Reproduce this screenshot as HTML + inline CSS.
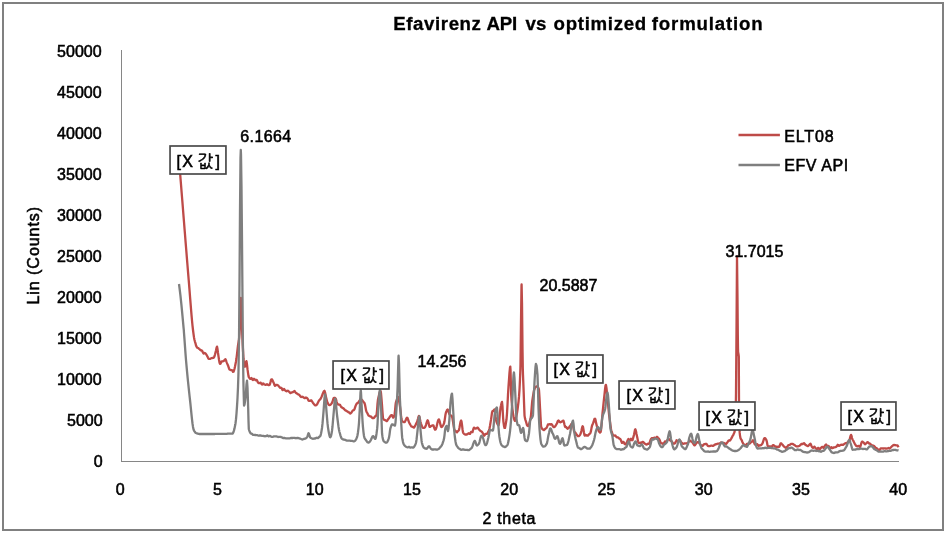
<!DOCTYPE html>
<html><head><meta charset="utf-8"><title>Efavirenz API vs optimized formulation</title>
<style>
html,body{margin:0;padding:0;background:#fff;}
svg{display:block;}
text{font-family:"Liberation Sans","NanumGothic",sans-serif;fill:#000;stroke:#000;stroke-width:0.55px;}
.t{font-size:16px;}
.k{font-size:16px;font-family:"Liberation Sans","NanumGothic","Noto Sans CJK KR",sans-serif;}
</style></head><body>
<svg width="946" height="533" viewBox="0 0 946 533">
<rect x="0" y="0" width="946" height="533" fill="#fff"/>
<rect x="3" y="3" width="940" height="527" fill="#fff" stroke="#808080" stroke-width="2"/>
<text y="29.6" font-size="18.67" font-weight="bold" style="stroke-width:0.3px" id="title"><tspan x="393.2" letter-spacing="0.6">Efavirenz</tspan> <tspan x="486.6" letter-spacing="-0.3">API</tspan> <tspan x="525.4" letter-spacing="0.2">vs</tspan> <tspan x="553.6" letter-spacing="0.7">optimized</tspan> <tspan x="651.8" letter-spacing="0.83">formulation</tspan></text>
<g shape-rendering="crispEdges" stroke="#868686" stroke-width="1">
<line x1="121.5" y1="50" x2="121.5" y2="462"/>
<line x1="121" y1="461.5" x2="899" y2="461.5"/>
</g>

<text class="t" x="102.6" y="466.7" text-anchor="end">0</text>
<text class="t" x="102.6" y="425.7" text-anchor="end">5000</text>
<text class="t" x="101.6" y="384.7" text-anchor="end">10000</text>
<text class="t" x="101.6" y="343.7" text-anchor="end">15000</text>
<text class="t" x="101.6" y="302.7" text-anchor="end">20000</text>
<text class="t" x="101.6" y="261.7" text-anchor="end">25000</text>
<text class="t" x="101.6" y="220.7" text-anchor="end">30000</text>
<text class="t" x="101.6" y="179.7" text-anchor="end">35000</text>
<text class="t" x="101.6" y="138.7" text-anchor="end">40000</text>
<text class="t" x="101.6" y="97.7" text-anchor="end">45000</text>
<text class="t" x="101.6" y="56.7" text-anchor="end">50000</text>
<text class="t" x="120.2" y="494.7" text-anchor="middle">0</text>
<text class="t" x="217.4" y="494.7" text-anchor="middle">5</text>
<text class="t" x="314.7" y="494.7" text-anchor="middle">10</text>
<text class="t" x="411.9" y="494.7" text-anchor="middle">15</text>
<text class="t" x="509.2" y="494.7" text-anchor="middle">20</text>
<text class="t" x="606.5" y="494.7" text-anchor="middle">25</text>
<text class="t" x="703.7" y="494.7" text-anchor="middle">30</text>
<text class="t" x="801.0" y="494.7" text-anchor="middle">35</text>
<text class="t" x="898.2" y="494.7" text-anchor="middle">40</text>
<text class="t" x="482.6" y="523.7" letter-spacing="0.65" id="xt">2 theta</text>
<text class="t" transform="translate(39,304.5) rotate(-90)" letter-spacing="0.95" id="yt">Lin (Counts)</text>
<polyline fill="none" stroke="#BE4B48" stroke-width="2.3" stroke-linejoin="round" points="180.0,172.0 180.5,178.3 181.0,184.5 181.5,190.8 182.0,197.0 182.5,203.2 183.0,209.5 183.5,215.8 184.0,222.0 184.5,228.3 185.0,234.5 185.5,240.8 186.0,247.0 186.5,253.2 187.0,259.4 187.5,265.5 188.0,271.6 188.5,277.6 188.7,280.0 189.0,283.6 189.5,289.9 190.0,296.3 190.5,302.7 191.0,308.9 191.5,314.9 192.0,320.5 192.5,325.6 193.0,330.0 193.5,333.9 194.0,337.4 194.5,340.0 195.0,341.8 195.5,343.3 196.0,345.4 196.2,346.0 196.5,346.6 197.0,347.6 197.5,347.8 198.0,348.0 198.5,348.3 199.0,348.8 199.5,349.2 200.0,349.6 200.5,350.1 201.0,350.4 201.5,350.5 202.0,350.6 202.5,351.5 203.0,352.7 203.5,353.5 204.0,353.2 204.5,353.0 205.0,353.1 205.5,353.5 206.0,354.0 206.5,354.8 207.0,355.7 207.5,356.6 208.0,357.7 208.5,358.7 209.0,358.9 209.5,358.9 210.0,358.9 210.5,358.7 211.0,358.3 211.5,358.2 212.0,358.1 212.5,357.9 213.0,357.9 213.5,357.8 214.0,357.4 214.5,356.2 215.0,354.5 215.5,352.5 216.0,350.5 216.5,348.0 217.0,346.6 217.5,349.1 218.0,353.0 218.5,356.3 219.0,359.7 219.5,362.5 220.0,363.9 220.5,363.7 221.0,362.6 221.5,361.5 222.0,361.3 222.5,361.3 223.0,361.3 223.5,361.0 224.0,360.7 224.5,360.1 225.0,359.6 225.5,359.3 226.0,360.4 226.5,361.8 227.0,363.1 227.5,364.3 228.0,365.4 228.5,366.9 229.0,368.4 229.5,369.4 230.0,369.7 230.5,369.9 231.0,370.1 231.5,370.1 232.0,370.1 232.5,371.0 233.0,371.8 233.5,371.7 234.0,370.5 234.5,368.7 235.0,366.5 235.5,364.0 235.8,362.5 236.0,361.5 236.5,358.3 237.0,354.2 237.5,349.7 238.0,345.5 238.5,342.5 239.0,339.2 239.2,337.4 239.5,333.6 240.0,324.3 240.3,317.6 240.5,310.4 240.9,297.9 241.0,298.7 241.5,314.4 241.6,317.3 242.0,327.8 242.5,340.2 242.7,344.6 243.0,350.4 243.5,358.7 243.8,361.9 244.0,363.2 244.5,365.9 244.8,366.7 245.0,366.6 245.5,364.5 246.0,362.0 246.4,361.1 246.5,361.2 247.0,364.7 247.5,369.2 248.0,372.9 248.5,376.1 248.8,377.1 249.0,377.4 249.5,378.2 250.0,378.9 250.5,378.9 251.0,378.5 251.5,378.0 252.0,378.9 252.5,379.7 253.0,380.0 253.5,379.4 253.8,379.0 254.0,378.8 254.5,379.2 255.0,379.8 255.5,380.3 256.0,380.1 256.5,379.9 257.0,380.4 257.5,381.5 258.0,382.6 258.5,382.9 259.0,383.2 259.5,383.2 260.0,382.9 260.5,382.6 261.0,383.2 261.5,384.0 262.0,384.6 262.5,384.1 263.0,383.5 263.5,383.6 264.0,384.1 264.5,384.5 265.0,384.7 265.5,384.8 266.0,384.8 266.5,384.5 267.0,384.2 267.5,384.5 268.0,384.9 268.5,385.0 269.0,385.0 269.5,384.9 270.0,384.0 270.5,382.1 271.0,379.9 271.5,379.3 272.0,379.4 272.5,380.3 273.0,381.5 273.5,382.4 274.0,383.7 274.5,385.1 275.0,385.8 275.5,385.4 276.0,385.0 276.5,384.9 277.0,385.0 277.3,385.0 277.5,385.1 278.0,385.3 278.5,385.8 279.0,386.5 279.5,387.1 280.0,387.7 280.5,387.9 281.0,387.8 281.5,387.9 282.0,389.0 282.5,390.1 283.0,390.2 283.5,389.5 284.0,388.9 284.5,389.6 285.0,390.2 285.5,390.7 286.0,391.0 286.5,391.3 287.0,391.1 287.5,390.8 288.0,390.7 288.5,391.2 289.0,391.7 289.5,392.1 290.0,392.6 290.5,393.1 291.0,392.8 291.5,392.6 292.0,392.4 292.5,392.2 293.0,392.1 293.5,391.7 294.0,391.2 294.5,391.0 295.0,391.7 295.5,392.5 296.0,393.0 296.5,393.3 297.0,393.6 297.5,393.9 298.0,394.2 298.5,394.5 299.0,394.8 299.5,395.1 300.0,395.8 300.5,396.5 301.0,397.0 301.5,396.9 302.0,396.7 302.5,396.8 303.0,397.1 303.5,397.4 304.0,397.7 304.5,398.1 305.0,398.2 305.5,397.8 306.0,397.5 306.5,397.7 307.0,398.0 307.5,398.5 308.0,399.5 308.5,400.5 309.0,400.9 309.5,400.9 310.0,400.9 310.5,400.6 311.0,400.4 311.5,400.5 312.0,401.3 312.5,402.2 313.0,402.9 313.5,403.5 314.0,404.2 314.5,404.8 315.0,405.3 315.5,405.4 316.0,405.2 316.3,405.1 316.5,404.9 317.0,404.4 317.5,403.6 318.0,402.6 318.5,401.6 319.0,400.6 319.5,399.9 320.0,399.5 320.5,398.9 321.0,397.9 321.5,396.9 322.0,395.7 322.5,394.5 322.6,394.3 323.0,393.2 323.5,392.0 324.0,391.1 324.4,390.8 324.5,390.9 325.0,392.2 325.5,394.5 326.0,396.9 326.5,399.1 327.0,401.2 327.5,402.6 328.0,403.7 328.5,404.5 328.8,404.8 329.0,405.0 329.5,405.2 330.0,405.0 330.5,404.7 331.0,404.2 331.5,403.6 332.0,402.9 332.5,401.7 333.0,400.0 333.5,398.4 334.0,397.9 334.5,397.9 334.7,398.1 335.0,397.9 335.5,398.3 336.0,399.2 336.5,401.3 337.0,403.1 337.5,404.2 338.0,404.4 338.5,404.5 339.0,404.6 339.5,404.7 340.0,404.9 340.5,405.8 341.0,406.7 341.5,407.2 342.0,407.5 342.5,407.9 343.0,408.1 343.5,408.4 344.0,408.9 344.5,409.5 345.0,410.1 345.5,410.4 346.0,410.6 346.5,410.9 347.0,411.2 347.5,411.5 348.0,411.9 348.5,412.2 348.8,412.3 349.0,412.4 349.5,412.9 350.0,413.4 350.5,413.5 351.0,413.0 351.5,412.4 352.0,411.6 352.5,410.9 353.0,410.3 353.5,410.2 353.8,410.1 354.0,410.0 354.5,409.2 355.0,407.7 355.5,406.2 356.0,404.9 356.5,403.9 357.0,403.3 357.5,403.1 358.0,403.0 358.5,402.2 359.0,401.4 359.5,400.6 360.0,399.9 360.5,399.4 361.0,399.3 361.5,399.6 362.0,400.0 362.5,400.6 363.0,401.3 363.5,401.9 364.0,402.5 364.5,403.1 365.0,404.7 365.5,407.3 366.0,410.1 366.5,411.8 367.0,412.7 367.5,413.4 368.0,414.5 368.5,415.5 369.0,415.8 369.5,416.1 370.0,416.3 370.5,416.4 371.0,416.6 371.5,417.1 372.0,417.7 372.5,418.1 373.0,418.2 373.5,418.2 373.9,418.0 374.0,417.9 374.5,417.3 375.0,416.4 375.5,416.3 376.0,415.9 376.5,414.7 376.6,414.3 377.0,410.8 377.5,403.8 377.9,400.1 378.0,399.6 378.5,397.2 379.0,395.1 379.5,393.1 380.0,391.7 380.5,391.1 380.6,391.1 381.0,393.1 381.5,398.9 382.0,405.0 382.5,412.3 383.0,418.3 383.1,418.6 383.5,419.1 384.0,419.7 384.5,419.9 385.0,420.1 385.5,420.3 386.0,420.7 386.5,421.1 387.0,421.0 387.1,420.9 387.5,420.3 388.0,419.2 388.5,418.8 389.0,418.2 389.5,417.4 390.0,416.6 390.5,415.9 391.0,415.4 391.5,415.1 392.0,415.1 392.5,416.3 393.0,417.6 393.5,417.5 394.0,416.7 394.3,416.2 394.5,415.4 395.0,410.9 395.5,405.3 395.8,402.8 396.0,402.2 396.5,400.6 397.0,399.5 397.5,397.8 397.8,397.1 398.0,396.9 398.5,397.7 399.0,400.4 399.5,403.5 399.8,405.3 400.0,406.6 400.5,410.7 401.0,415.4 401.5,419.1 402.0,421.2 402.2,421.4 402.5,421.5 403.0,421.8 403.5,422.0 404.0,422.1 404.5,422.1 405.0,421.6 405.5,420.6 406.0,419.5 406.5,418.3 406.8,417.8 407.0,417.7 407.5,418.0 408.0,419.3 408.5,420.8 409.0,422.2 409.4,423.1 409.5,423.3 410.0,424.1 410.5,425.0 411.0,425.8 411.5,426.5 412.0,426.7 412.5,426.8 413.0,427.1 413.3,427.3 413.5,427.4 414.0,427.6 414.5,426.9 415.0,426.0 415.5,425.1 416.0,424.0 416.5,422.9 416.6,422.7 417.0,421.9 417.5,420.4 418.0,418.7 418.5,416.8 418.9,415.9 419.0,415.9 419.5,417.1 420.0,419.6 420.5,422.0 420.6,422.3 421.0,423.6 421.5,425.1 422.0,426.5 422.5,427.4 423.0,427.8 423.5,427.9 424.0,427.9 424.5,427.7 425.0,427.2 425.2,426.9 425.5,426.3 426.0,424.8 426.5,423.1 427.0,421.5 427.5,420.4 427.6,420.3 428.0,420.7 428.5,422.5 429.0,425.1 429.5,426.8 429.6,426.9 430.0,426.9 430.5,426.6 431.0,426.2 431.5,425.7 432.0,425.5 432.2,425.5 432.5,425.3 433.0,425.3 433.5,425.6 434.0,427.1 434.5,428.7 435.0,429.6 435.5,429.5 436.0,428.8 436.5,427.1 437.0,424.9 437.5,422.6 438.0,420.8 438.5,419.6 438.8,419.4 439.0,419.5 439.5,420.8 440.0,422.7 440.5,424.9 441.0,426.6 441.4,427.1 441.5,427.1 442.0,426.8 442.5,426.2 443.0,425.4 443.5,424.5 444.0,423.5 444.5,421.3 445.0,417.8 445.5,414.4 446.0,412.2 446.5,411.2 447.0,410.1 447.5,409.6 447.6,409.5 448.0,410.0 448.5,411.6 449.0,413.2 449.3,414.0 449.5,414.3 450.0,415.0 450.5,415.4 451.0,415.5 451.5,415.7 451.9,416.2 452.0,416.4 452.5,418.6 453.0,421.6 453.2,422.9 453.5,424.9 454.0,428.2 454.5,430.7 455.0,431.4 455.2,431.2 455.5,430.8 456.0,431.2 456.5,432.0 457.0,432.4 457.5,431.7 458.0,431.0 458.5,430.8 459.0,429.9 459.5,427.5 460.0,424.6 460.5,422.0 461.0,420.6 461.1,420.5 461.5,421.4 462.0,424.8 462.5,429.2 463.0,432.3 463.1,432.5 463.5,433.3 464.0,433.8 464.5,434.2 465.0,434.4 465.5,434.6 465.7,434.6 466.0,434.5 466.5,434.5 467.0,434.4 467.5,434.1 468.0,433.7 468.5,433.2 469.0,433.4 469.5,433.8 469.7,433.9 470.0,433.9 470.5,433.0 471.0,432.1 471.5,431.8 472.0,432.0 472.5,432.1 473.0,430.3 473.5,428.5 474.0,427.6 474.5,428.0 475.0,428.5 475.5,428.5 476.0,428.4 476.5,428.3 477.0,427.9 477.5,427.6 478.0,427.8 478.5,428.6 479.0,429.5 479.5,430.0 480.0,430.5 480.5,430.9 481.0,431.2 481.5,431.4 482.0,432.0 482.5,432.7 483.0,433.5 483.5,434.6 484.0,435.5 484.1,435.7 484.5,435.4 485.0,434.6 485.5,433.9 486.0,433.9 486.5,433.9 486.9,433.9 487.0,433.8 487.5,433.2 488.0,432.2 488.5,431.2 488.9,430.4 489.0,430.2 489.5,428.5 490.0,425.8 490.5,422.7 490.9,420.4 491.0,419.9 491.5,416.3 492.0,412.6 492.5,411.1 493.0,411.0 493.5,410.7 494.0,409.9 494.4,409.4 494.5,409.4 495.0,412.0 495.5,416.4 496.0,420.0 496.1,420.4 496.5,421.6 497.0,423.0 497.5,424.1 498.0,425.0 498.5,425.5 499.0,423.1 499.5,417.9 500.0,412.2 500.5,407.9 500.7,406.8 501.0,405.6 501.5,403.2 502.0,401.9 502.5,406.7 503.0,416.2 503.4,421.6 503.5,422.3 504.0,425.9 504.5,427.9 505.0,427.9 505.5,425.5 506.0,422.6 506.3,420.6 506.5,419.5 507.0,413.5 507.5,404.6 508.0,394.7 508.5,386.3 508.6,385.1 509.0,379.7 509.5,372.6 510.0,367.6 510.3,366.6 510.5,369.6 511.0,389.1 511.2,394.7 511.5,399.6 512.0,405.5 512.5,409.6 513.0,413.1 513.5,416.3 514.0,418.6 514.5,420.3 515.0,420.9 515.5,420.5 516.0,418.2 516.5,415.8 517.0,413.1 517.5,409.9 518.0,405.9 518.5,401.8 519.0,396.7 519.5,389.6 520.0,379.3 520.4,368.6 520.5,364.4 521.0,322.0 521.5,285.9 521.6,284.5 522.0,303.1 522.5,349.0 522.8,368.4 523.0,375.0 523.5,387.6 523.7,392.7 524.0,401.8 524.5,415.1 524.6,416.1 525.0,418.4 525.5,420.1 526.0,421.6 526.3,422.7 526.5,423.4 527.0,425.1 527.5,425.8 528.0,426.1 528.3,426.0 528.5,425.8 529.0,424.5 529.5,422.5 530.0,420.6 530.3,419.7 530.5,418.8 531.0,415.3 531.5,409.5 532.0,403.7 532.3,400.7 532.5,399.4 533.0,396.1 533.5,393.2 534.0,390.5 534.2,389.8 534.5,389.0 535.0,387.8 535.5,387.1 536.0,386.7 536.5,386.4 537.0,386.4 537.5,386.5 538.0,387.3 538.5,388.3 538.8,389.0 539.0,390.0 539.5,397.8 540.0,407.6 540.1,409.1 540.5,416.8 541.0,425.3 541.2,426.8 541.5,427.8 542.0,428.6 542.5,429.1 543.0,429.6 543.4,429.9 543.5,429.9 544.0,430.1 544.5,429.7 545.0,429.1 545.5,428.6 546.0,428.2 546.5,427.9 546.7,427.6 547.0,427.0 547.5,425.7 548.0,424.5 548.5,424.4 549.0,424.4 549.5,424.2 550.0,424.1 550.5,424.5 551.0,424.2 551.5,424.2 552.0,424.6 552.5,425.6 553.0,426.4 553.5,426.9 553.9,427.1 554.0,427.1 554.5,426.9 555.0,426.5 555.5,425.8 556.0,425.0 556.5,424.1 557.0,423.4 557.5,421.8 557.9,420.9 558.0,420.7 558.5,420.5 559.0,421.1 559.5,421.8 560.0,422.2 560.5,422.3 561.0,422.0 561.5,421.7 562.0,421.4 562.5,421.0 563.0,420.7 563.1,420.6 563.5,420.8 564.0,422.6 564.5,424.8 565.0,426.6 565.5,427.1 565.8,427.1 566.0,426.9 566.5,427.4 567.0,428.2 567.5,428.7 568.0,428.4 568.5,428.1 569.0,427.6 569.5,426.8 569.7,426.5 570.0,426.0 570.5,425.5 571.0,424.7 571.5,424.0 572.0,423.6 572.5,423.5 573.0,425.1 573.5,428.1 574.0,431.0 574.3,431.6 574.5,431.8 575.0,432.2 575.5,432.9 576.0,433.7 576.5,434.2 577.0,435.2 577.5,435.9 577.6,436.0 578.0,436.2 578.5,436.2 579.0,436.1 579.5,435.5 580.0,434.8 580.2,434.5 580.5,433.9 581.0,432.5 581.5,430.5 582.0,428.1 582.5,426.4 582.6,426.2 583.0,426.8 583.5,429.6 584.0,432.9 584.5,435.3 584.8,435.6 585.0,435.4 585.5,435.0 586.0,435.1 586.5,435.4 587.0,435.6 587.5,435.5 588.0,435.5 588.5,435.1 589.0,434.4 589.4,433.9 589.5,433.8 590.0,433.7 590.5,432.8 591.0,430.9 591.5,428.1 592.0,425.7 592.5,424.5 593.0,423.4 593.5,422.2 594.0,420.4 594.5,418.9 595.0,418.7 595.3,419.2 595.5,419.8 596.0,422.6 596.5,424.6 597.0,426.6 597.3,427.3 597.5,427.8 598.0,429.1 598.5,430.4 599.0,431.4 599.5,432.2 600.0,432.6 600.5,432.2 600.6,432.1 601.0,430.2 601.5,425.4 602.0,419.3 602.5,413.4 603.0,408.7 603.5,403.7 604.0,398.9 604.1,398.1 604.5,394.3 605.0,389.5 605.5,385.7 605.8,384.9 606.0,385.1 606.5,388.1 607.0,393.3 607.5,398.5 608.0,403.5 608.5,408.8 609.0,414.0 609.3,416.3 609.5,417.8 610.0,421.5 610.5,425.3 611.0,428.9 611.1,429.4 611.5,431.1 612.0,432.7 612.5,434.3 613.0,435.5 613.5,435.5 614.0,435.5 614.5,435.6 615.0,435.7 615.4,435.6 615.5,435.5 616.0,436.3 616.5,437.0 617.0,437.4 617.5,437.4 618.0,437.5 618.5,437.8 619.0,438.3 619.3,438.6 619.5,438.7 620.0,438.9 620.5,439.4 621.0,440.5 621.5,441.8 622.0,442.9 622.5,442.6 622.7,442.4 623.0,442.0 623.5,441.9 624.0,442.8 624.5,443.8 625.0,444.2 625.5,444.4 626.0,444.2 626.5,443.1 627.0,442.0 627.5,440.7 627.8,440.0 628.0,439.7 628.5,438.9 629.0,439.6 629.5,440.4 630.0,440.5 630.5,439.7 631.0,438.8 631.5,439.5 631.7,439.9 632.0,440.3 632.5,440.1 633.0,438.5 633.5,436.6 634.0,434.7 634.5,432.3 635.0,429.8 635.4,429.3 635.5,429.5 636.0,431.2 636.5,433.9 637.0,436.2 637.5,438.6 638.0,441.3 638.5,442.8 639.0,443.1 639.5,442.9 640.0,442.7 640.5,442.7 641.0,442.8 641.5,442.9 641.8,442.6 642.0,442.4 642.5,441.9 643.0,441.9 643.5,442.4 644.0,442.9 644.5,443.4 645.0,443.8 645.5,444.1 645.8,444.3 646.0,444.4 646.5,444.5 647.0,444.4 647.5,444.0 648.0,443.6 648.5,443.7 649.0,443.8 649.1,443.8 649.5,443.3 650.0,441.7 650.5,440.0 651.0,439.0 651.5,438.4 652.0,438.1 652.5,438.1 653.0,438.2 653.5,438.0 654.0,437.8 654.5,437.6 654.8,437.6 655.0,437.7 655.5,437.8 656.0,437.7 656.5,437.3 657.0,436.8 657.5,437.2 658.0,437.8 658.2,438.0 658.5,438.3 659.0,438.8 659.5,439.6 660.0,441.0 660.4,442.1 660.5,442.3 661.0,443.2 661.5,443.3 662.0,443.3 662.5,443.4 662.7,443.7 663.0,443.9 663.5,444.3 664.0,443.4 664.5,442.3 665.0,441.4 665.5,441.6 666.0,441.9 666.5,441.5 667.0,440.7 667.5,439.9 668.0,439.5 668.5,439.3 669.0,439.2 669.4,439.3 669.5,439.4 670.0,440.3 670.5,440.8 671.0,441.0 671.1,441.0 671.5,441.2 672.0,441.9 672.5,442.6 673.0,443.2 673.5,443.6 673.6,443.6 674.0,443.6 674.5,443.5 675.0,443.2 675.5,442.4 676.0,441.2 676.4,440.5 676.5,440.3 677.0,440.5 677.5,441.0 678.0,441.3 678.5,440.8 679.0,440.3 679.3,440.2 679.5,440.2 680.0,440.5 680.5,441.0 681.0,441.8 681.5,442.5 682.0,443.1 682.1,443.1 682.5,443.5 683.0,443.8 683.5,443.8 684.0,443.6 684.5,443.4 684.9,443.4 685.0,443.4 685.5,443.4 686.0,443.4 686.5,443.4 687.0,443.3 687.5,443.0 688.0,442.7 688.3,442.6 688.5,442.2 689.0,441.3 689.5,440.3 690.0,440.5 690.5,441.0 691.0,441.5 691.5,441.5 691.6,441.6 692.0,441.8 692.5,442.5 693.0,443.3 693.5,444.2 694.0,444.9 694.5,445.4 695.0,445.2 695.5,444.4 696.0,443.6 696.5,442.9 697.0,442.5 697.3,442.3 697.5,442.2 698.0,442.1 698.5,442.2 699.0,442.7 699.5,443.5 700.0,444.3 700.5,444.8 700.6,444.8 701.0,445.1 701.5,445.4 702.0,445.7 702.5,445.9 703.0,445.5 703.5,444.8 704.0,444.2 704.5,444.2 705.0,444.1 705.5,443.9 706.0,443.8 706.3,443.9 706.5,444.0 707.0,444.6 707.5,445.4 708.0,446.0 708.5,446.2 709.0,446.2 709.5,446.2 709.7,446.1 710.0,446.0 710.5,445.8 711.0,445.7 711.5,445.7 712.0,445.7 712.5,445.8 713.0,445.9 713.5,445.7 714.0,445.2 714.5,444.7 715.0,444.6 715.5,444.5 716.0,444.2 716.4,444.1 716.5,444.1 717.0,444.0 717.5,443.8 718.0,443.6 718.5,443.6 719.0,443.7 719.5,443.8 720.0,443.3 720.5,442.7 720.9,442.5 721.0,442.5 721.5,442.8 722.0,443.2 722.5,443.1 723.0,443.0 723.5,442.9 724.0,443.1 724.3,443.2 724.5,443.3 725.0,443.5 725.5,443.8 726.0,444.0 726.5,443.4 727.0,442.8 727.5,442.2 728.0,441.4 728.5,440.6 729.0,440.5 729.5,440.6 730.0,440.4 730.5,439.8 731.0,439.0 731.5,438.1 731.9,437.4 732.0,437.2 732.5,436.1 733.0,435.4 733.5,434.4 734.0,433.2 734.1,433.0 734.5,432.0 735.0,429.5 735.2,427.8 735.5,420.6 735.9,401.1 736.0,393.6 736.5,331.2 737.0,257.8 737.0,256.5 737.5,299.4 737.8,334.7 738.0,348.5 738.1,352.0 738.5,354.2 738.8,356.6 739.0,398.8 739.0,403.2 739.5,429.4 739.7,432.9 740.0,435.6 740.5,438.2 740.9,439.0 741.0,439.1 741.5,439.8 742.0,441.0 742.5,442.2 743.0,443.2 743.1,443.4 743.5,443.9 744.0,444.6 744.5,445.2 745.0,445.7 745.4,445.8 745.5,445.8 746.0,445.2 746.5,444.4 747.0,443.9 747.5,443.8 748.0,443.7 748.5,443.7 748.8,443.7 749.0,443.7 749.5,443.6 750.0,443.1 750.5,442.6 751.0,442.3 751.5,442.0 752.0,441.8 752.5,440.8 752.7,440.5 753.0,440.3 753.5,440.8 754.0,442.3 754.4,443.5 754.5,443.8 755.0,444.4 755.5,444.8 756.0,444.8 756.5,444.5 757.0,444.1 757.5,444.4 758.0,445.2 758.5,446.0 759.0,445.7 759.4,445.5 759.5,445.4 760.0,445.2 760.5,445.3 761.0,445.2 761.5,444.7 762.0,444.1 762.2,443.8 762.5,443.3 763.0,442.0 763.5,440.4 764.0,438.9 764.4,438.2 764.5,438.1 765.0,438.1 765.5,438.6 766.0,439.3 766.5,440.5 766.7,441.1 767.0,442.4 767.5,445.4 767.8,446.2 768.0,446.3 768.5,446.4 769.0,446.4 769.5,446.4 770.0,446.3 770.5,446.6 770.6,446.7 771.0,447.0 771.5,447.2 772.0,446.4 772.5,445.6 772.9,445.2 773.0,445.1 773.5,445.2 774.0,445.5 774.5,445.9 775.0,446.3 775.5,446.7 776.0,446.8 776.5,446.7 776.8,446.7 777.0,446.8 777.5,446.8 778.0,446.7 778.5,446.8 779.0,446.9 779.5,446.4 780.0,444.9 780.5,443.6 781.0,443.3 781.3,443.5 781.5,443.6 782.0,444.3 782.5,444.7 783.0,445.3 783.5,446.0 784.0,446.5 784.1,446.6 784.5,446.7 785.0,447.2 785.5,447.7 786.0,447.8 786.5,447.4 787.0,447.0 787.5,446.3 788.0,445.6 788.5,445.1 788.6,445.1 789.0,445.1 789.5,445.1 790.0,444.8 790.5,444.3 791.0,443.9 791.5,443.8 792.0,443.8 792.5,443.9 793.0,444.1 793.5,444.4 794.0,444.7 794.5,445.1 795.0,445.4 795.4,445.8 795.5,445.8 796.0,446.2 796.5,446.4 797.0,446.4 797.5,446.4 798.0,446.3 798.5,446.2 799.0,446.0 799.5,445.7 799.9,445.4 800.0,445.4 800.5,444.9 801.0,444.3 801.5,443.9 802.0,444.0 802.5,444.1 803.0,443.9 803.5,443.5 804.0,443.1 804.4,443.5 804.5,443.6 805.0,444.3 805.5,444.9 806.0,445.1 806.5,445.4 807.0,445.8 807.5,446.0 807.8,446.1 808.0,446.0 808.5,445.6 809.0,445.1 809.5,444.5 810.0,444.0 810.5,443.7 811.0,444.8 811.5,446.0 812.0,447.0 812.5,447.5 813.0,447.9 813.4,447.7 813.5,447.6 814.0,446.9 814.5,446.6 815.0,447.3 815.5,448.0 816.0,448.5 816.5,448.9 816.8,449.1 817.0,449.3 817.5,448.6 818.0,447.9 818.5,447.8 819.0,448.7 819.5,449.5 820.0,449.2 820.5,448.5 821.0,447.8 821.5,447.3 822.0,446.9 822.5,446.9 823.0,447.4 823.3,447.7 823.5,447.9 824.0,447.2 824.5,446.4 825.0,445.6 825.5,445.0 826.0,444.5 826.1,444.5 826.5,445.0 827.0,445.9 827.5,446.7 828.0,446.4 828.5,446.0 828.9,446.3 829.0,446.5 829.5,447.8 830.0,449.0 830.5,448.3 831.0,447.5 831.5,447.2 832.0,447.6 832.5,448.0 833.0,447.9 833.1,447.8 833.5,447.6 834.0,447.3 834.5,447.3 835.0,447.3 835.5,447.1 836.0,446.9 836.5,446.7 837.0,445.9 837.5,445.2 837.8,444.8 838.0,445.0 838.5,445.4 839.0,445.9 839.5,445.7 840.0,445.3 840.5,445.0 841.0,444.9 841.5,444.7 842.0,444.7 842.5,444.8 843.0,444.9 843.5,444.6 844.0,444.2 844.5,443.8 845.0,443.5 845.5,443.1 846.0,443.1 846.3,443.2 846.5,443.3 847.0,443.2 847.5,442.5 848.0,441.7 848.5,441.2 849.0,441.0 849.1,440.9 849.5,440.2 850.0,438.0 850.5,436.0 851.0,434.9 851.5,435.8 852.0,438.0 852.4,439.3 852.5,439.5 853.0,440.3 853.5,441.1 854.0,442.2 854.5,443.2 854.7,443.6 855.0,444.1 855.5,444.9 856.0,445.8 856.5,446.1 857.0,446.3 857.5,446.3 858.0,446.0 858.5,445.8 859.0,446.2 859.5,446.8 860.0,447.0 860.3,446.5 860.5,446.1 861.0,444.2 861.5,442.5 862.0,441.7 862.2,441.6 862.5,441.7 863.0,442.1 863.5,442.5 864.0,443.1 864.5,443.7 865.0,444.3 865.5,444.0 866.0,443.5 866.5,443.0 867.0,442.5 867.5,442.1 868.0,442.3 868.5,442.9 869.0,443.4 869.5,443.6 869.7,443.6 870.0,443.7 870.5,444.1 871.0,444.7 871.5,445.3 872.0,445.5 872.5,445.5 873.0,445.5 873.5,445.7 874.0,446.0 874.5,446.4 875.0,447.0 875.5,447.6 876.0,447.9 876.3,448.0 876.5,448.1 877.0,448.5 877.5,449.0 878.0,449.5 878.5,449.9 879.0,450.1 879.5,450.2 880.0,449.4 880.5,448.5 881.0,448.3 881.5,448.3 882.0,448.3 882.5,448.4 883.0,448.5 883.5,448.5 884.0,448.4 884.5,448.3 885.0,448.4 885.5,448.5 885.7,448.6 886.0,448.6 886.5,448.6 887.0,448.5 887.5,448.4 888.0,448.2 888.5,448.0 889.0,448.3 889.5,448.5 890.0,448.4 890.4,447.9 890.5,447.8 891.0,447.2 891.5,446.7 892.0,446.2 892.5,445.8 893.0,445.4 893.5,445.1 894.0,445.0 894.5,445.0 895.0,445.2 895.5,445.2 896.0,445.3 896.5,445.4 897.0,445.3 897.5,445.3 898.0,446.2 898.5,447.3"/>
<polyline fill="none" stroke="#7F7F7F" stroke-width="2.3" stroke-linejoin="round" points="179.0,284.0 179.5,287.8 180.0,291.8 180.5,296.2 181.0,300.9 181.5,305.7 182.0,310.8 182.5,316.1 183.0,321.6 183.5,327.2 183.8,330.0 184.0,333.0 184.5,339.7 185.0,346.7 185.5,353.7 186.0,360.0 186.5,365.7 187.0,371.1 187.5,376.3 188.0,381.4 188.5,386.2 189.0,390.9 189.5,395.5 190.0,400.0 190.5,404.7 191.0,409.6 191.5,414.6 192.0,419.3 192.5,423.5 193.0,426.9 193.5,429.3 193.8,430.0 194.0,430.5 194.5,431.4 195.0,432.1 195.5,432.7 196.0,433.0 196.5,433.2 197.0,433.4 197.5,433.6 198.0,433.7 198.5,433.8 199.0,433.9 199.5,434.0 200.0,434.0 200.5,434.0 201.0,434.0 201.5,434.0 202.0,434.0 202.5,434.0 203.0,434.0 203.5,434.0 204.0,434.0 204.5,434.0 205.0,434.0 205.5,434.0 206.0,434.0 206.5,434.0 207.0,434.0 207.5,434.0 208.0,434.0 208.5,434.0 209.0,434.0 209.5,434.0 210.0,434.0 210.5,434.0 211.0,434.0 211.5,434.0 212.0,434.0 212.5,434.0 213.0,434.0 213.5,434.0 214.0,434.0 214.5,434.0 215.0,433.9 215.5,433.9 216.0,433.9 216.5,433.9 217.0,433.9 217.5,433.9 218.0,433.9 218.5,433.9 219.0,433.9 219.5,433.9 220.0,433.9 220.5,433.9 221.0,433.9 221.5,433.9 222.0,433.9 222.5,433.9 223.0,433.8 223.5,433.8 224.0,433.8 224.5,433.8 225.0,433.8 225.5,433.8 226.0,433.8 226.5,433.8 227.0,433.8 227.5,433.7 228.0,433.7 228.5,433.7 229.0,433.7 229.5,433.7 230.0,433.7 230.5,433.7 231.0,433.6 231.5,433.6 232.0,433.6 232.4,433.6 232.5,433.6 233.0,433.1 233.5,432.0 234.0,430.4 234.5,428.4 235.0,426.1 235.3,424.6 235.5,423.4 236.0,419.2 236.5,413.5 237.0,406.4 237.4,400.0 237.5,398.3 238.0,387.3 238.4,375.0 238.5,371.0 238.9,345.0 239.0,341.3 239.5,283.3 240.0,210.9 240.5,158.2 240.8,150.0 241.0,154.8 241.5,187.9 242.0,240.7 242.5,299.1 242.9,345.0 243.0,349.5 243.3,375.0 243.5,386.0 244.0,404.8 244.1,405.5 244.5,404.5 245.0,401.5 245.5,397.6 246.0,391.6 246.5,384.2 247.0,380.7 247.5,387.8 248.0,402.8 248.2,408.8 248.5,420.7 248.8,429.0 249.0,429.8 249.5,431.2 250.0,432.4 250.5,433.2 251.0,433.5 251.5,433.6 252.0,433.9 252.5,434.4 253.0,434.8 253.5,434.9 254.0,434.9 254.5,434.9 255.0,435.0 255.5,435.0 256.0,435.1 256.5,435.1 257.0,435.1 257.5,435.3 258.0,435.5 258.3,435.6 258.5,435.6 259.0,435.6 259.5,435.5 260.0,435.5 260.5,435.5 261.0,435.5 261.5,435.7 262.0,435.9 262.5,435.9 263.0,435.9 263.5,435.9 264.0,436.1 264.5,436.2 265.0,436.3 265.5,436.2 266.0,436.1 266.5,435.9 267.0,435.6 267.5,435.5 268.0,435.9 268.5,436.3 269.0,436.3 269.5,436.1 270.0,435.8 270.5,436.2 271.0,436.5 271.5,436.8 272.0,436.8 272.5,436.9 273.0,436.7 273.5,436.5 274.0,436.4 274.5,436.3 275.0,436.3 275.5,436.3 276.0,436.3 276.5,436.3 277.0,436.6 277.5,436.8 278.0,437.0 278.5,436.9 279.0,436.9 279.5,436.9 280.0,436.9 280.5,436.9 281.0,437.0 281.5,437.2 282.0,437.4 282.5,437.8 283.0,438.1 283.5,438.1 284.0,438.0 284.5,438.0 285.0,438.1 285.5,438.3 286.0,438.3 286.5,438.4 287.0,438.4 287.5,438.4 288.0,438.4 288.5,438.4 289.0,438.4 289.5,438.4 290.0,438.3 290.5,438.1 291.0,438.0 291.5,438.0 292.0,438.0 292.5,438.0 293.0,437.9 293.5,437.9 294.0,437.9 294.5,437.9 295.0,438.0 295.5,438.1 296.0,438.3 296.5,438.1 297.0,438.0 297.5,437.9 298.0,438.0 298.5,438.1 299.0,438.3 299.5,438.4 300.0,438.6 300.5,438.8 301.0,439.0 301.5,439.2 302.0,439.4 302.5,439.5 303.0,439.3 303.5,439.1 304.0,438.9 304.5,438.8 305.0,438.6 305.5,438.5 306.0,438.2 306.5,437.8 307.0,437.1 307.3,436.6 307.5,436.2 308.0,434.5 308.5,433.2 308.6,433.2 309.0,433.9 309.5,435.7 310.0,437.1 310.5,437.6 311.0,438.0 311.5,438.2 312.0,438.5 312.5,438.7 313.0,438.8 313.5,438.7 314.0,438.6 314.5,438.5 315.0,438.5 315.5,438.4 316.0,438.1 316.5,437.8 317.0,437.7 317.5,437.9 318.0,438.1 318.5,437.7 319.0,437.1 319.5,436.6 320.0,436.4 320.5,435.6 321.0,433.8 321.5,431.1 322.0,428.0 322.5,423.7 323.0,417.9 323.5,411.9 324.0,405.0 324.5,397.9 325.0,394.5 325.5,397.7 326.0,404.8 326.5,411.7 327.0,417.5 327.5,423.2 328.0,427.6 328.5,430.7 329.0,433.6 329.5,435.8 330.0,437.1 330.2,437.3 330.5,437.1 331.0,436.0 331.5,433.8 332.0,430.9 332.5,426.5 333.0,420.6 333.5,414.9 334.0,409.1 334.5,403.0 335.0,399.2 335.2,398.7 335.5,399.6 336.0,403.9 336.5,409.9 337.0,415.0 337.5,419.0 338.0,423.0 338.5,426.7 339.0,429.7 339.4,431.6 339.5,432.0 340.0,433.8 340.5,435.6 341.0,437.1 341.5,438.2 342.0,438.8 342.5,439.2 343.0,439.4 343.5,439.5 344.0,439.5 344.5,439.7 345.0,439.9 345.5,440.0 346.0,440.3 346.5,440.6 347.0,440.6 347.5,440.6 348.0,440.6 348.5,440.6 349.0,440.6 349.5,440.7 350.0,440.7 350.5,440.8 351.0,440.8 351.5,440.8 352.0,440.8 352.5,441.0 353.0,441.2 353.5,441.3 353.8,441.3 354.0,441.3 354.5,441.2 355.0,440.8 355.5,440.2 356.0,439.4 356.5,438.4 357.0,437.2 357.5,435.3 358.0,432.2 358.5,428.1 358.8,425.2 359.0,422.8 359.5,414.0 359.8,408.4 360.0,404.1 360.5,392.6 360.8,390.4 361.0,392.3 361.5,402.3 361.8,408.4 362.0,411.9 362.5,420.8 362.9,426.3 363.0,427.4 363.5,432.3 364.0,436.0 364.5,438.0 365.0,438.8 365.5,439.6 366.0,440.2 366.5,441.0 367.0,441.7 367.5,442.3 368.0,442.5 368.5,442.5 368.8,442.5 369.0,442.4 369.5,442.0 370.0,441.5 370.5,440.7 371.0,439.7 371.5,438.5 372.0,437.4 372.5,436.5 373.0,436.1 373.3,436.2 373.5,436.4 374.0,437.3 374.5,438.1 375.0,438.8 375.3,438.9 375.5,438.7 376.0,436.9 376.5,433.7 377.0,429.9 377.2,428.2 377.5,424.3 378.0,414.1 378.5,404.8 379.0,397.7 379.5,391.9 379.9,390.1 380.0,390.3 380.5,396.6 381.0,407.4 381.2,411.7 381.5,419.6 382.0,432.8 382.1,434.0 382.5,436.9 383.0,439.4 383.5,440.9 383.8,441.3 384.0,441.5 384.5,441.8 385.0,442.2 385.5,442.6 386.0,442.7 386.4,442.7 386.5,442.7 387.0,442.3 387.5,441.6 388.0,440.6 388.5,439.2 389.0,437.6 389.5,434.6 390.0,430.6 390.4,428.4 390.5,428.1 391.0,426.5 391.5,425.2 392.0,424.4 392.3,424.3 392.5,424.3 393.0,424.6 393.5,425.0 394.0,425.3 394.5,425.5 395.0,425.6 395.5,422.6 396.0,415.8 396.3,411.4 396.5,408.5 397.0,400.1 397.5,389.8 397.6,387.5 398.0,372.9 398.5,356.4 398.6,355.7 399.0,363.3 399.5,384.0 399.9,398.2 400.0,400.6 400.5,410.7 401.0,419.4 401.3,424.2 401.5,427.7 402.0,435.7 402.2,437.7 402.5,439.6 403.0,442.1 403.5,443.8 404.0,444.8 404.1,444.9 404.5,445.4 405.0,445.9 405.5,446.3 406.0,446.7 406.5,447.0 407.0,447.2 407.5,447.3 408.0,447.3 408.1,447.3 408.5,447.1 409.0,446.8 409.5,447.1 410.0,447.4 410.5,447.7 411.0,447.5 411.5,447.3 412.0,447.3 412.5,447.5 413.0,447.6 413.3,447.5 413.5,447.5 414.0,447.0 414.5,446.2 415.0,445.3 415.5,444.2 416.0,442.8 416.5,439.9 417.0,435.4 417.5,430.8 418.0,426.0 418.5,420.8 419.0,417.1 419.3,416.4 419.5,417.1 420.0,422.9 420.5,430.0 420.6,431.1 421.0,435.3 421.5,440.2 421.9,442.7 422.0,443.1 422.5,444.9 423.0,446.3 423.5,447.3 423.9,447.8 424.0,447.8 424.5,448.1 425.0,448.4 425.5,448.6 426.0,448.7 426.5,448.8 427.0,448.6 427.5,448.0 428.0,447.2 428.5,446.5 428.9,446.3 429.0,446.3 429.5,446.6 430.0,447.3 430.5,448.1 431.0,448.8 431.5,449.2 431.6,449.3 432.0,449.4 432.5,449.6 433.0,449.5 433.5,449.5 434.0,449.4 434.5,449.4 435.0,449.3 435.5,449.4 436.0,449.5 436.5,449.6 436.8,449.6 437.0,449.6 437.5,449.5 438.0,449.3 438.5,449.0 439.0,448.6 439.5,448.1 440.0,447.5 440.5,446.9 441.0,446.4 441.4,445.9 441.5,445.8 442.0,444.9 442.5,443.7 443.0,442.2 443.5,440.6 444.0,438.8 444.5,435.3 445.0,430.7 445.4,428.3 445.5,428.0 446.0,426.7 446.5,426.0 446.7,425.9 447.0,426.6 447.5,429.4 448.0,431.1 448.5,428.8 449.0,423.7 449.3,420.4 449.5,417.9 450.0,409.5 450.5,402.2 450.6,401.3 451.0,398.0 451.5,394.7 451.9,393.6 452.0,393.7 452.5,399.0 453.0,407.7 453.2,411.0 453.5,416.1 454.0,425.9 454.5,433.8 454.6,434.7 455.0,438.0 455.5,441.5 456.0,444.0 456.5,445.4 457.0,446.2 457.5,446.9 458.0,447.6 458.5,448.1 459.0,448.5 459.5,448.8 460.0,449.1 460.5,449.5 461.0,449.8 461.5,449.8 462.0,449.6 462.5,449.5 463.0,449.5 463.5,449.5 464.0,449.6 464.5,449.7 465.0,449.9 465.5,449.8 466.0,449.8 466.5,449.8 467.0,449.9 467.5,449.9 468.0,450.1 468.3,450.2 468.5,450.2 469.0,450.2 469.5,449.8 470.0,449.3 470.5,448.9 471.0,448.5 471.5,448.1 471.6,448.0 472.0,447.4 472.5,446.2 473.0,444.7 473.5,443.2 474.0,441.9 474.5,441.1 474.9,440.9 475.0,441.0 475.5,442.0 476.0,443.6 476.5,445.1 476.9,445.5 477.0,445.5 477.5,445.2 478.0,444.8 478.5,444.3 478.8,443.9 479.0,443.6 479.5,442.1 480.0,440.0 480.5,437.9 481.0,436.3 481.5,435.7 482.0,436.2 482.5,437.0 482.8,437.6 483.0,438.0 483.5,439.5 484.0,441.4 484.5,443.3 485.0,444.6 485.5,445.2 485.6,445.2 486.0,445.0 486.5,444.3 487.0,443.1 487.5,441.2 488.0,439.2 488.3,438.0 488.5,437.1 489.0,434.5 489.5,431.7 490.0,429.9 490.2,429.8 490.5,429.8 491.0,430.0 491.5,430.2 492.0,430.4 492.5,430.5 492.9,430.5 493.0,430.4 493.5,427.2 494.0,421.5 494.5,416.0 494.8,413.8 495.0,412.9 495.5,410.6 496.0,408.8 496.5,407.6 496.8,407.4 497.0,408.1 497.5,414.0 498.0,421.5 498.1,422.7 498.5,427.4 499.0,433.3 499.4,436.7 499.5,437.3 500.0,440.2 500.5,442.5 501.0,444.0 501.4,444.7 501.5,444.9 502.0,445.5 502.5,446.0 503.0,446.4 503.5,446.6 504.0,446.8 504.5,447.0 504.7,447.0 505.0,447.0 505.5,446.9 506.0,446.5 506.5,446.0 507.0,445.5 507.3,445.1 507.5,444.8 508.0,443.3 508.5,441.1 509.0,438.3 509.5,435.1 509.9,432.2 510.0,431.5 510.5,426.7 511.0,420.6 511.5,413.7 511.9,408.0 512.0,406.5 512.5,396.3 513.0,384.7 513.5,375.4 513.9,372.5 514.0,372.7 514.5,378.4 515.0,388.3 515.2,392.1 515.5,398.4 516.0,410.4 516.5,418.6 517.0,422.3 517.5,424.6 517.8,425.0 518.0,425.0 518.5,425.1 519.0,425.2 519.1,425.3 519.5,426.3 520.0,428.7 520.5,431.3 521.0,432.8 521.1,432.9 521.5,432.4 522.0,430.7 522.5,428.9 523.0,427.9 523.1,427.9 523.5,429.2 524.0,433.2 524.5,437.5 525.0,439.9 525.5,440.5 526.0,440.9 526.5,441.1 527.0,441.1 527.5,440.3 528.0,438.5 528.5,436.0 529.0,433.2 529.5,428.1 530.0,422.1 530.3,420.1 530.5,419.6 531.0,418.8 531.5,418.3 532.0,417.7 532.5,416.8 532.9,415.7 533.0,414.9 533.5,403.5 533.6,401.2 534.0,392.6 534.5,382.1 534.9,375.3 535.0,373.9 535.5,366.8 535.9,364.0 536.0,364.0 536.5,365.5 537.0,369.5 537.5,375.1 538.0,390.1 538.5,408.0 539.0,419.7 539.5,428.7 539.6,430.0 540.0,434.7 540.5,439.6 541.0,442.9 541.4,444.2 541.5,444.4 542.0,445.1 542.5,445.9 543.0,446.5 543.5,446.6 544.0,446.5 544.1,446.5 544.5,446.4 545.0,446.2 545.5,445.7 546.0,445.0 546.5,444.2 546.7,443.8 547.0,443.0 547.5,440.5 548.0,437.6 548.5,435.1 548.7,434.3 549.0,433.1 549.5,430.8 550.0,428.8 550.3,428.3 550.5,428.3 551.0,429.0 551.5,430.4 552.0,432.0 552.5,433.2 552.6,433.3 553.0,434.0 553.5,435.2 554.0,436.8 554.5,438.2 555.0,438.8 555.3,438.8 555.5,438.7 556.0,437.8 556.5,436.8 557.0,436.1 557.2,436.1 557.5,436.3 558.0,437.6 558.5,439.6 559.0,441.8 559.5,443.4 559.9,443.9 560.0,443.9 560.5,443.3 561.0,442.0 561.5,440.3 562.0,438.8 562.5,438.1 563.0,439.4 563.5,442.2 564.0,444.8 564.4,445.5 564.5,445.5 565.0,445.3 565.5,445.3 566.0,445.2 566.5,445.1 567.0,444.8 567.1,444.8 567.5,444.2 568.0,442.7 568.5,440.7 569.0,438.4 569.5,436.1 569.7,435.3 570.0,434.0 570.5,431.2 571.0,428.1 571.5,425.4 571.7,424.6 572.0,423.4 572.5,421.5 573.0,420.6 573.5,423.7 574.0,429.5 574.3,432.2 574.5,433.5 575.0,436.2 575.5,438.6 576.0,440.6 576.3,441.8 576.5,442.6 577.0,444.7 577.5,446.4 578.0,447.4 578.2,447.6 578.5,447.7 579.0,447.9 579.5,448.2 580.0,448.6 580.5,449.0 581.0,449.1 581.5,449.0 582.0,448.7 582.5,448.3 583.0,447.9 583.5,447.4 584.0,447.1 584.5,446.9 584.8,446.9 585.0,446.9 585.5,447.2 586.0,447.6 586.5,448.0 587.0,448.4 587.5,448.7 588.0,448.7 588.1,448.7 588.5,448.6 589.0,448.7 589.5,448.7 590.0,448.4 590.5,447.8 591.0,447.1 591.4,446.7 591.5,446.5 592.0,445.7 592.5,444.5 593.0,443.2 593.5,441.7 594.0,440.1 594.5,438.0 595.0,435.5 595.5,432.9 596.0,430.9 596.5,429.4 597.0,428.1 597.5,427.2 597.9,427.0 598.0,427.0 598.5,427.5 599.0,428.2 599.5,428.8 600.0,429.2 600.5,429.6 600.6,429.7 601.0,428.6 601.5,424.7 602.0,420.0 602.5,416.6 603.0,414.9 603.5,413.6 604.0,412.5 604.5,411.2 605.0,409.4 605.2,408.5 605.5,406.4 606.0,401.4 606.5,396.6 606.7,395.3 607.0,393.9 607.5,392.6 608.0,395.2 608.5,400.8 609.0,407.4 609.1,408.6 609.5,414.8 610.0,423.6 610.4,428.2 610.5,428.8 611.0,431.3 611.5,433.1 612.0,434.7 612.4,436.2 612.5,436.8 613.0,440.5 613.5,444.2 613.7,445.0 614.0,445.8 614.5,447.0 615.0,447.8 615.5,448.4 616.0,448.8 616.5,449.0 617.0,449.1 617.5,449.1 618.0,449.1 618.5,449.1 619.0,449.1 619.5,449.2 620.0,449.3 620.5,449.6 621.0,449.8 621.5,449.6 622.0,449.4 622.1,449.3 622.5,449.2 623.0,449.3 623.5,449.2 624.0,448.9 624.5,448.4 625.0,447.9 625.5,447.6 626.0,447.3 626.1,447.2 626.5,446.7 627.0,445.5 627.5,444.2 628.0,442.7 628.5,441.7 628.9,441.3 629.0,441.4 629.5,442.8 630.0,444.9 630.5,446.2 630.6,446.4 631.0,446.7 631.5,447.0 632.0,447.4 632.3,447.5 632.5,447.5 633.0,446.8 633.5,445.4 634.0,443.8 634.5,442.7 635.0,441.8 635.5,441.4 635.6,441.4 636.0,442.0 636.5,443.6 637.0,444.9 637.3,445.3 637.5,445.4 638.0,445.6 638.5,445.8 639.0,446.0 639.5,446.1 639.6,446.1 640.0,446.1 640.5,445.7 641.0,445.1 641.5,444.6 641.8,444.5 642.0,444.6 642.5,445.3 643.0,446.3 643.5,447.5 644.0,448.3 644.1,448.4 644.5,448.6 645.0,448.9 645.5,449.1 646.0,449.3 646.5,449.5 646.9,449.6 647.0,449.6 647.5,449.4 648.0,449.0 648.5,448.6 649.0,448.0 649.5,447.4 649.7,447.1 650.0,446.6 650.5,444.8 651.0,442.6 651.5,440.5 652.0,439.4 652.5,439.3 653.0,439.4 653.5,439.6 654.0,439.2 654.5,438.9 654.8,438.7 655.0,438.7 655.5,438.7 656.0,438.7 656.5,438.9 657.0,439.0 657.5,439.2 657.6,439.3 658.0,440.0 658.5,441.5 659.0,443.2 659.3,443.9 659.5,444.2 660.0,445.2 660.5,446.1 661.0,446.7 661.5,447.1 662.0,447.2 662.5,447.1 663.0,446.4 663.5,445.5 664.0,444.7 664.5,444.3 664.9,444.1 665.0,444.1 665.5,443.7 666.0,443.2 666.5,442.7 667.0,441.9 667.2,441.6 667.5,440.4 668.0,437.5 668.3,436.0 668.5,435.1 669.0,432.9 669.5,431.3 669.6,431.2 670.0,432.2 670.5,435.4 671.0,438.9 671.2,439.8 671.5,441.0 672.0,443.1 672.5,445.2 673.0,447.0 673.5,448.4 674.0,449.2 674.2,449.3 674.5,449.3 675.0,448.9 675.5,448.5 676.0,447.9 676.4,447.5 676.5,447.4 677.0,446.2 677.5,444.6 678.0,442.8 678.5,441.0 679.0,439.8 679.3,439.5 679.5,439.5 680.0,440.4 680.5,442.0 681.0,443.8 681.5,445.4 682.0,446.5 682.1,446.6 682.5,447.0 683.0,447.5 683.5,447.9 684.0,448.5 684.5,448.8 684.9,449.0 685.0,449.1 685.5,449.0 686.0,448.6 686.5,447.6 687.0,446.3 687.5,445.1 687.7,444.8 688.0,444.0 688.5,441.7 689.0,438.9 689.4,437.3 689.5,437.0 690.0,435.5 690.5,434.3 691.0,433.6 691.1,433.6 691.5,434.3 692.0,436.4 692.5,439.0 693.0,441.2 693.3,442.0 693.5,442.3 694.0,442.7 694.5,442.8 695.0,442.7 695.5,441.6 696.0,439.2 696.5,436.9 696.7,436.2 697.0,435.4 697.5,434.3 697.8,434.0 698.0,434.2 698.5,436.1 699.0,438.9 699.5,441.6 700.0,443.6 700.5,445.4 701.0,446.9 701.5,448.1 701.8,448.5 702.0,448.7 702.5,449.2 703.0,449.7 703.5,450.3 704.0,450.9 704.5,451.3 705.0,451.5 705.5,451.6 706.0,451.7 706.3,451.7 706.5,451.7 707.0,451.6 707.5,451.6 708.0,451.5 708.5,451.6 709.0,451.8 709.5,451.9 710.0,451.8 710.5,451.7 711.0,451.7 711.5,451.7 712.0,451.7 712.5,451.6 713.0,451.5 713.5,451.5 714.0,451.5 714.5,451.5 715.0,451.5 715.3,451.5 715.5,451.5 716.0,451.4 716.5,451.2 717.0,450.9 717.5,450.3 718.0,449.6 718.1,449.4 718.5,448.6 719.0,447.4 719.5,446.0 720.0,444.8 720.3,444.2 720.5,443.8 721.0,443.1 721.5,442.5 722.0,442.3 722.5,442.6 723.0,443.3 723.5,444.2 724.0,445.2 724.3,445.7 724.5,445.9 725.0,446.5 725.5,446.4 726.0,446.3 726.5,446.4 727.0,446.8 727.5,447.2 728.0,447.5 728.5,447.9 729.0,448.4 729.5,448.6 730.0,448.9 730.5,449.3 731.0,449.6 731.5,450.0 732.0,450.3 732.5,450.6 733.0,450.7 733.5,450.8 734.0,450.9 734.5,451.0 735.0,451.0 735.5,451.0 736.0,451.0 736.5,450.9 737.0,450.8 737.5,450.6 738.0,450.3 738.5,450.1 739.0,449.7 739.5,449.2 740.0,448.8 740.5,448.3 740.9,447.9 741.0,447.7 741.5,447.0 742.0,446.3 742.5,445.7 743.0,445.3 743.5,445.2 743.7,445.3 744.0,445.5 744.5,446.0 745.0,446.1 745.5,446.2 746.0,446.5 746.5,446.8 747.0,446.8 747.5,446.0 748.0,444.9 748.5,443.8 748.8,443.2 749.0,442.8 749.5,441.8 750.0,440.5 750.5,438.9 751.0,436.4 751.5,433.6 751.6,433.1 752.0,431.4 752.5,429.9 752.7,429.7 753.0,430.4 753.5,432.9 753.8,434.4 754.0,435.4 754.5,437.8 755.0,440.3 755.5,443.1 756.0,445.6 756.1,445.9 756.5,446.9 757.0,447.9 757.5,448.6 757.8,448.6 758.0,448.5 758.5,448.4 759.0,448.3 759.5,448.3 760.0,448.3 760.5,448.3 761.0,448.3 761.5,448.3 762.0,448.3 762.5,448.2 763.0,448.2 763.5,448.2 764.0,448.3 764.5,448.0 765.0,447.7 765.5,447.7 766.0,447.9 766.1,448.0 766.5,448.2 767.0,448.1 767.5,447.9 768.0,447.8 768.5,447.8 769.0,447.8 769.5,447.8 770.0,447.8 770.5,447.7 771.0,447.9 771.5,448.1 772.0,448.2 772.5,448.2 772.9,448.2 773.0,448.3 773.5,448.3 774.0,448.3 774.5,448.3 775.0,448.5 775.5,448.8 776.0,449.0 776.5,449.2 777.0,449.5 777.5,449.6 778.0,449.7 778.5,449.9 779.0,450.3 779.5,450.7 780.0,450.9 780.5,451.1 781.0,451.3 781.5,451.6 781.9,451.8 782.0,451.8 782.5,451.8 783.0,451.6 783.5,451.4 784.0,451.3 784.5,451.2 785.0,450.9 785.5,450.5 785.8,450.3 786.0,450.1 786.5,449.8 787.0,449.5 787.5,449.1 788.0,448.6 788.5,448.3 788.6,448.3 789.0,448.2 789.5,448.2 790.0,448.2 790.5,447.9 791.0,447.7 791.5,447.6 792.0,447.8 792.5,448.3 793.0,448.6 793.5,448.9 794.0,449.3 794.5,449.9 794.8,450.1 795.0,450.2 795.5,450.2 796.0,450.1 796.5,450.0 797.0,449.7 797.5,449.5 798.0,449.5 798.5,449.7 798.8,449.9 799.0,450.0 799.5,449.9 800.0,449.8 800.5,449.8 801.0,450.3 801.5,450.7 802.0,451.1 802.5,451.4 803.0,451.7 803.3,451.8 803.5,451.8 804.0,452.0 804.5,452.1 805.0,452.1 805.5,452.2 806.0,452.3 806.5,452.4 807.0,452.5 807.5,452.5 807.8,452.4 808.0,452.4 808.5,452.3 809.0,452.1 809.5,451.8 810.0,451.4 810.5,451.0 811.0,450.7 811.5,450.6 812.0,450.5 812.3,450.6 812.5,450.6 813.0,450.8 813.5,450.8 814.0,450.7 814.5,450.6 815.0,450.6 815.5,450.8 816.0,451.0 816.5,450.9 816.8,450.8 817.0,450.7 817.5,450.8 818.0,451.0 818.5,451.2 819.0,451.3 819.5,451.2 820.0,451.2 820.5,451.5 821.0,451.8 821.5,451.6 822.0,451.2 822.5,450.8 823.0,450.9 823.3,450.9 823.5,450.9 824.0,450.5 824.5,449.9 825.0,449.3 825.5,448.6 825.6,448.5 826.0,448.0 826.5,447.3 827.0,446.8 827.5,446.6 828.0,446.9 828.5,447.6 829.0,448.5 829.4,449.0 829.5,449.1 830.0,449.9 830.5,450.7 831.0,451.5 831.5,452.2 831.7,452.3 832.0,452.4 832.5,452.6 833.0,452.8 833.5,452.9 834.0,453.0 834.1,453.0 834.5,452.9 835.0,452.6 835.5,452.3 836.0,452.4 836.5,452.4 837.0,452.3 837.5,452.3 838.0,452.2 838.5,451.9 838.8,451.6 839.0,451.5 839.5,451.2 840.0,451.1 840.5,450.9 841.0,450.8 841.5,450.8 842.0,450.8 842.5,450.7 843.0,450.7 843.5,450.5 844.0,450.2 844.5,449.7 845.0,448.9 845.5,448.0 846.0,447.1 846.3,446.7 846.5,446.4 847.0,445.3 847.5,443.8 848.0,442.4 848.1,442.1 848.5,441.1 849.0,440.1 849.3,439.9 849.5,440.1 850.0,441.3 850.5,443.0 851.0,444.5 851.5,446.3 852.0,448.3 852.5,449.7 852.8,449.8 853.0,449.8 853.5,449.6 854.0,449.6 854.5,449.6 855.0,449.6 855.5,449.5 856.0,449.4 856.5,449.2 857.0,449.1 857.5,449.0 858.0,449.0 858.5,449.1 859.0,449.2 859.5,449.0 860.0,448.8 860.5,448.7 861.0,448.7 861.5,448.6 862.0,448.8 862.2,448.8 862.5,448.9 863.0,449.0 863.5,448.9 864.0,448.9 864.5,448.9 865.0,448.9 865.5,449.0 866.0,449.2 866.5,449.4 866.9,449.4 867.0,449.3 867.5,448.9 868.0,448.2 868.5,447.5 869.0,446.9 869.5,446.5 869.7,446.5 870.0,446.4 870.5,446.3 871.0,446.3 871.5,446.2 871.6,446.2 872.0,446.4 872.5,446.8 873.0,447.4 873.5,448.1 874.0,448.8 874.4,449.2 874.5,449.3 875.0,449.5 875.5,449.7 876.0,450.0 876.5,450.2 877.0,450.4 877.5,450.9 878.0,451.3 878.2,451.4 878.5,451.6 879.0,451.7 879.5,451.7 880.0,451.7 880.5,451.6 881.0,451.5 881.5,451.6 881.9,451.7 882.0,451.7 882.5,451.7 883.0,451.6 883.5,451.5 884.0,451.3 884.5,451.2 885.0,451.1 885.5,451.3 886.0,451.4 886.5,451.4 887.0,451.3 887.5,451.2 888.0,451.1 888.5,451.0 889.0,450.9 889.5,450.9 890.0,450.9 890.5,450.8 891.0,450.7 891.5,450.6 892.0,450.3 892.2,450.2 892.5,450.1 893.0,450.0 893.5,450.0 894.0,449.9 894.5,449.9 895.0,449.8 895.5,449.9 896.0,450.1 896.5,450.3 897.0,450.3 897.5,450.4 898.0,450.4 898.5,450.6"/>
<line x1="738.5" y1="135" x2="779.9" y2="135" stroke="#BE4B48" stroke-width="2.3"/>
<line x1="738.5" y1="165" x2="779.9" y2="165" stroke="#7F7F7F" stroke-width="2.3"/>
<text class="t" x="784.2" y="141.5" letter-spacing="0.85">ELT08</text>
<text class="t" x="784.2" y="171" letter-spacing="0.6">EFV API</text>
<text class="t" x="240.3" y="141.7" letter-spacing="0.4">6.1664</text>
<text class="t" x="417.5" y="366.5">14.256</text>
<text class="t" x="539.5" y="291">20.5887</text>
<text class="t" x="725.5" y="256.7">31.7015</text>
<rect x="170.05" y="146.00" width="55.90" height="28" fill="#fff" stroke="#4a4a4a" stroke-width="1.7"/>
<text class="k" y="166.50"><tspan x="176.60" letter-spacing="1.3">[X</tspan> <tspan x="197.60" font-size="16.5">값</tspan><tspan x="215.50">]</tspan></text>
<rect x="333.05" y="361.00" width="55.90" height="28" fill="#fff" stroke="#4a4a4a" stroke-width="1.7"/>
<text class="k" y="380.50"><tspan x="340.50" letter-spacing="1.3">[X</tspan> <tspan x="361.50" font-size="16.5">값</tspan><tspan x="379.40">]</tspan></text>
<rect x="547.05" y="355.00" width="55.90" height="28" fill="#fff" stroke="#4a4a4a" stroke-width="1.7"/>
<text class="k" y="374.50"><tspan x="553.60" letter-spacing="1.3">[X</tspan> <tspan x="574.60" font-size="16.5">값</tspan><tspan x="592.50">]</tspan></text>
<rect x="619.05" y="381.00" width="55.90" height="28" fill="#fff" stroke="#4a4a4a" stroke-width="1.7"/>
<text class="k" y="400.50"><tspan x="626.50" letter-spacing="1.3">[X</tspan> <tspan x="647.50" font-size="16.5">값</tspan><tspan x="665.40">]</tspan></text>
<rect x="699.05" y="402.00" width="55.90" height="28" fill="#fff" stroke="#4a4a4a" stroke-width="1.7"/>
<text class="k" y="422.50"><tspan x="705.60" letter-spacing="1.3">[X</tspan> <tspan x="726.60" font-size="16.5">값</tspan><tspan x="744.50">]</tspan></text>
<rect x="841.05" y="402.00" width="54.90" height="28" fill="#fff" stroke="#4a4a4a" stroke-width="1.7"/>
<text class="k" y="421.50"><tspan x="847.60" letter-spacing="1.3">[X</tspan> <tspan x="868.60" font-size="16.5">값</tspan><tspan x="886.50">]</tspan></text>
</svg></body></html>
